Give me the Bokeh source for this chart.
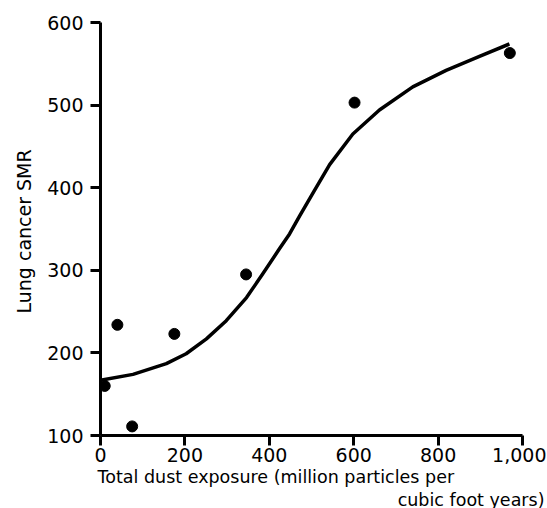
from bokeh.plotting import figure
from bokeh.models import Range1d, FixedTicker, Title
from bokeh.embed import file_html
from bokeh.resources import INLINE

# observed points (total dust exposure, lung cancer SMR)
dust_x = [10, 40, 75, 175, 345, 602, 970]
smr_y = [160, 234, 111, 223, 295, 503, 563]

# fitted curve
curve_x = [0, 77, 156, 203, 251, 298, 346, 385, 424, 448, 472, 503, 543, 598,
           661, 740, 819, 898, 969]
curve_y = [167, 174, 187, 199, 217, 239, 267, 296, 326, 344, 366, 393, 428, 465,
           494, 522, 542, 559, 574]

x_ticks = [0, 200, 400, 600, 800, 1000]
x_tick_labels = ["0", "200", "400", "600", "800", "1,000"]
y_ticks = [100, 200, 300, 400, 500, 600]

FONT = "DejaVu Sans"

p = figure(width=547, height=508, output_backend="svg", toolbar_location=None,
           x_range=Range1d(0, 1000), y_range=Range1d(100, 600),
           min_border_left=100, min_border_right=24, min_border_top=22,
           min_border_bottom=73)
p.frame_width = 422
p.frame_height = 413
p.outline_line_color = None
p.grid.visible = False
p.background_fill_color = "white"

for ax in (p.xaxis[0], p.yaxis[0]):
    ax.axis_line_width = 3
    ax.axis_line_color = "black"
    ax.major_tick_line_width = 3
    ax.major_tick_line_color = "black"
    ax.major_tick_out = 10
    ax.major_tick_in = 0
    ax.minor_tick_line_color = None
    ax.major_label_text_font = FONT
    ax.major_label_text_font_size = "19px"
    ax.major_label_text_color = "black"

p.xaxis.ticker = FixedTicker(ticks=x_ticks)
p.xaxis.major_label_overrides = {t: l for t, l in zip(x_ticks, x_tick_labels)}
p.xaxis.major_label_standoff = 2
p.yaxis.ticker = FixedTicker(ticks=y_ticks)
p.yaxis.major_label_standoff = 7

p.line(curve_x, curve_y, line_width=3.5, line_color="black", line_join="round")
p.scatter(dust_x, smr_y, size=11, fill_color="black", line_color="black")

tkw = dict(text_font=FONT, text_color="black", text_font_style="normal")
p.add_layout(Title(text="Total dust exposure (million particles per",
                   align="left", offset=-3, standoff=1, text_font_size="17.5px",
                   text_line_height=0.9, **tkw), "below")
p.add_layout(Title(text="cubic foot years)", align="right", offset=-22,
                   standoff=0, text_font_size="17.5px", text_line_height=0.9,
                   **tkw), "below")
p.add_layout(Title(text="Lung cancer SMR", align="left", offset=122,
                   standoff=19, text_font_size="19px", **tkw), "left")

open("out.html", "w").write(file_html(p, INLINE))
